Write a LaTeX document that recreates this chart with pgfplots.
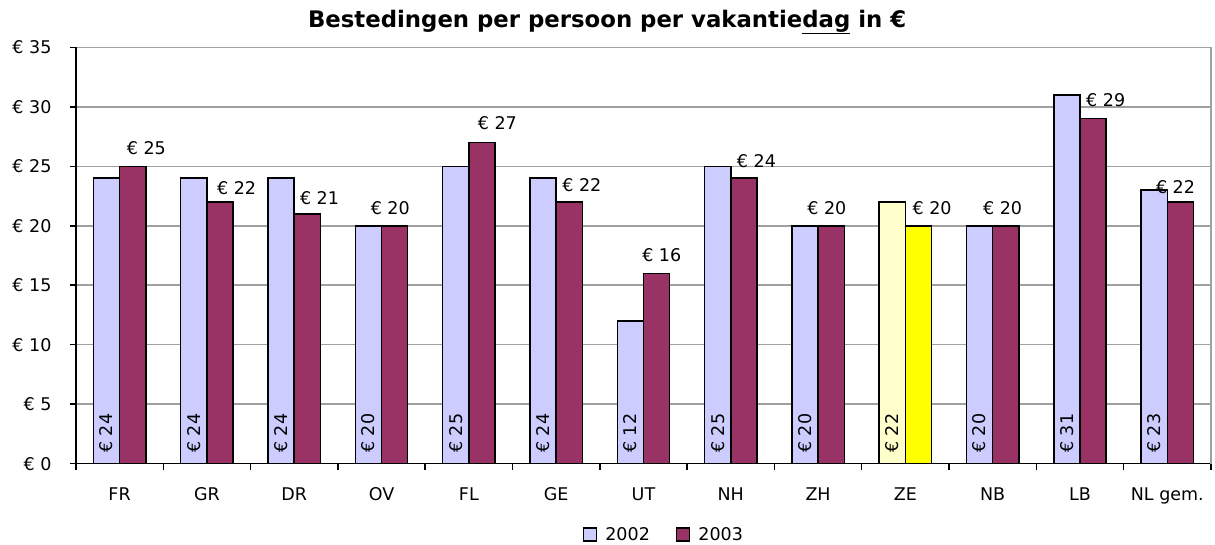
\documentclass[border=0pt]{standalone}
\usepackage{pgfplots}
\pgfplotsset{compat=1.18}
\usepackage{fontspec}
\setmainfont{DejaVu Sans}
\definecolor{c02}{HTML}{CCCCFF}
\definecolor{c03}{HTML}{993366}
\definecolor{ze02}{HTML}{FFFFCC}
\definecolor{ze03}{HTML}{FFFF00}
\definecolor{gridc}{HTML}{A0A0A0}
\newcommand\lab{\fontsize{17.5}{21}\selectfont}
\pgfplotsset{
  mybar/.style={ybar, bar width=0.3, draw=black, line width=1.5pt,
    legend image code/.code={\draw[##1,line width=1.5pt] (0pt,-6.5pt) rectangle (13pt,6.5pt);}},
}
\begin{document}
\begin{tikzpicture}[x=1pt,y=1pt]
\useasboundingbox (0,0) rectangle (1215,545);
\begin{axis}[
  at={(87,68.4)}, anchor=south west,
  scale only axis, width=1135pt, height=416.3pt,
  xmin=-0.5, xmax=12.5, ymin=0, ymax=35,
  axis x line*=bottom, axis y line*=left,
  axis line style={black, line width=1.5pt, -},
  tick align=outside, major tick length=6pt,
  tick style={black, line width=1.5pt},
  ytick={0,5,...,35},
  yticklabels={€ 0,€ 5,€ 10,€ 15,€ 20,€ 25,€ 30,€ 35},
  yticklabel style={font=\lab, xshift=-15pt},
  ymajorgrids, grid style={gridc, line width=1.5pt},
  xtick={-0.5,0.5,...,12.5}, xticklabels={},
  extra x ticks={0,1,...,12},
  extra x tick labels={FR,GR,DR,OV,FL,GE,UT,NH,ZH,ZE,NB,LB,NL gem.},
  extra x tick style={major tick length=0pt, grid=none,
     xticklabel style={font=\lab, anchor=base, yshift=-36.5pt}},
  title={\textbf{Bestedingen per persoon per vakantie\underline{dag} in €}},
  title style={font=\fontsize{22.8}{26}\selectfont, at={(0.468,1)}, anchor=base, yshift=14pt},
  legend style={at={(0.518,-0.17)}, anchor=center, draw=none, fill=none,
     legend columns=2, font=\lab,
     /tikz/every odd column/.append style={column sep=6pt},
     /tikz/every even column/.append style={column sep=24pt}},
  clip=false,
]
\addplot[mybar, bar shift=-0.15, fill=c02] coordinates {
 (0,24) (1,24) (2,24) (3,20) (4,25) (5,24) (6,12) (7,25) (8,20) (9,22) (10,20) (11,31) (12,23)};
\addlegendentry{2002}
\addplot[mybar, bar shift=0.15, fill=c03] coordinates {
 (0,25) (1,22) (2,21) (3,20) (4,27) (5,22) (6,16) (7,24) (8,20) (9,20) (10,20) (11,29) (12,22)};
\addlegendentry{2003}
\addplot[mybar, bar shift=-0.15, fill=ze02, forget plot] coordinates {(9,22)};
\addplot[mybar, bar shift=0.15, fill=ze03, forget plot] coordinates {(9,20)};
% labels 2003
\addplot[draw=none, mark=none, forget plot, nodes near coords, point meta=explicit symbolic,
  nodes near coords style={anchor=center, font=\lab, inner sep=0pt}] coordinates {
 (0.306,26.51) [€ 25] (1.34,23.2) [€ 22] (2.29,22.36) [€ 21] (3.10,21.44) [€ 20]
 (4.326,28.64) [€ 27] (5.294,23.4) [€ 22] (6.21,17.57) [€ 16] (7.294,25.44) [€ 24]
 (8.10,21.44) [€ 20] (9.306,21.44) [€ 20] (10.114,21.46) [€ 20] (11.294,30.6) [€ 29]
 (12.094,23.26) [€ 22]};
% labels 2002 (rotated)
\addplot[draw=none, mark=none, forget plot, nodes near coords, point meta=explicit symbolic,
  nodes near coords style={rotate=90, anchor=west, font=\lab, inner sep=0pt}] coordinates {
 (-0.15,0.9) [€ 24] (0.85,0.9) [€ 24] (1.85,0.9) [€ 24] (2.85,0.9) [€ 20]
 (3.85,0.9) [€ 25] (4.85,0.9) [€ 24] (5.85,0.9) [€ 12] (6.85,0.9) [€ 25]
 (7.85,0.9) [€ 20] (8.85,0.9) [€ 22] (9.85,0.9) [€ 20] (10.85,0.9) [€ 31]
 (11.85,0.9) [€ 23]};
\draw[gridc, line width=1.5pt] (rel axis cs:1,0) -- (rel axis cs:1,1);
\end{axis}
\end{tikzpicture}
\end{document}
